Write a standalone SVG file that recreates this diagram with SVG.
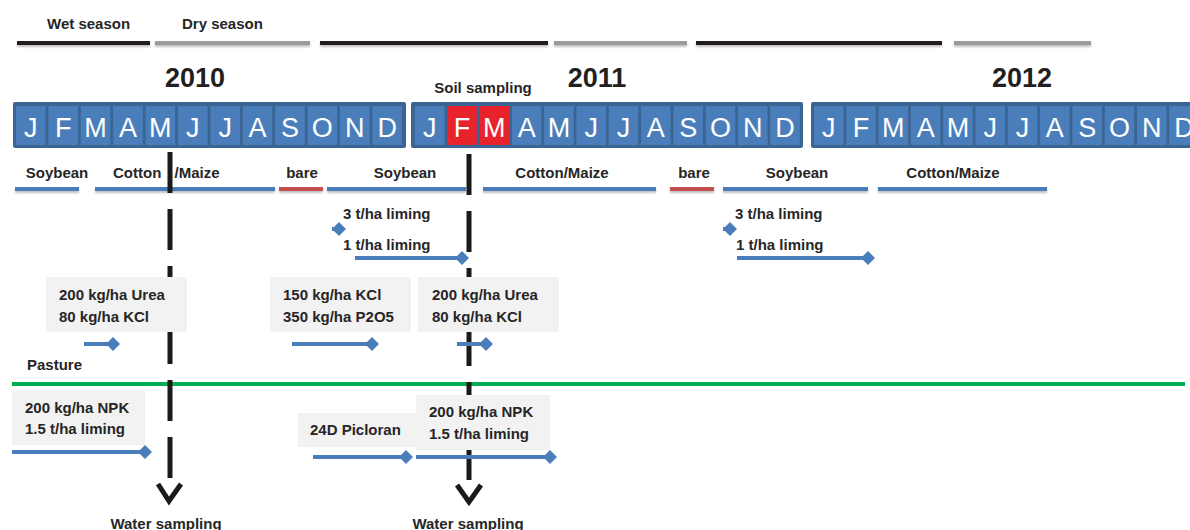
<svg xmlns="http://www.w3.org/2000/svg" width="1190" height="530" viewBox="0 0 1190 530">
<style>
.lbl{font-family:"Liberation Sans",Arial,sans-serif;font-weight:bold;font-size:15px;fill:#262626}
.yr{font-family:"Liberation Sans",Arial,sans-serif;font-weight:bold;font-size:27px;fill:#231f20;text-anchor:middle}
.mo{font-family:"Liberation Sans",Arial,sans-serif;font-size:27px;fill:#ffffff;text-anchor:middle}
.mid{text-anchor:middle}
.outer{fill:#3a6494}
.cell{fill:#4a7ebb}
.red{fill:#e8232b}
.box{fill:#f2f2f2}
.wet{stroke:#231f20;stroke-width:4;fill:none}
.dry{stroke:#9b9b9b;stroke-width:4;fill:none}
.crop{stroke:#4a7ebb;stroke-width:4;fill:none}
.bare{stroke:#c0504d;stroke-width:4;fill:none}
.app{stroke:#4a7ebb;stroke-width:4;fill:none;marker-end:url(#dia)}
.dash{stroke:#1a1a1a;stroke-width:5;fill:none;stroke-dasharray:41 16}
.chev{stroke:#1a1a1a;stroke-width:5;fill:none;stroke-linejoin:miter}
</style>
<defs>
<marker id="dia" markerUnits="userSpaceOnUse" markerWidth="16" markerHeight="16" refX="8" refY="8" orient="0" viewBox="0 0 16 16">
<path d="M1,8 L8,1 L15,8 L8,15 Z" fill="#4a7ebb"/>
</marker>
<filter id="sh" filterUnits="userSpaceOnUse" x="0" y="0" width="1190" height="530">
<feDropShadow dx="0" dy="2" stdDeviation="1" flood-color="#000" flood-opacity="0.25"/>
</filter>
</defs>

<g id="seasons" filter="url(#sh)">
<line class="wet" x1="17" y1="43" x2="150" y2="43"/>
<line class="dry" x1="155" y1="43" x2="310" y2="43"/>
<line class="wet" x1="320" y1="43" x2="548" y2="43"/>
<line class="dry" x1="554" y1="43" x2="687" y2="43"/>
<line class="wet" x1="696" y1="43" x2="942" y2="43"/>
<line class="dry" x1="954" y1="43" x2="1091" y2="43"/>
</g>
<g id="season-labels">
<text class="lbl" x="47" y="29">Wet season</text>
<text class="lbl" x="182" y="29">Dry season</text>
</g>

<g id="year-2010">
<text class="yr" x="195" y="87">2010</text>
<rect class="outer" x="13" y="102" width="393" height="46" rx="2"/>
<rect class="cell" x="16" y="106" width="29.5" height="39"/>
<rect class="cell" x="48.4" y="106" width="29.5" height="39"/>
<rect class="cell" x="80.8" y="106" width="29.5" height="39"/>
<rect class="cell" x="113.2" y="106" width="29.5" height="39"/>
<rect class="cell" x="145.6" y="106" width="29.5" height="39"/>
<rect class="cell" x="178" y="106" width="29.5" height="39"/>
<rect class="cell" x="210.4" y="106" width="29.5" height="39"/>
<rect class="cell" x="242.8" y="106" width="29.5" height="39"/>
<rect class="cell" x="275.2" y="106" width="29.5" height="39"/>
<rect class="cell" x="307.6" y="106" width="29.5" height="39"/>
<rect class="cell" x="340" y="106" width="29.5" height="39"/>
<rect class="cell" x="372.4" y="106" width="29.5" height="39"/>
<text class="mo" x="30.75" y="137">J</text>
<text class="mo" x="63.15" y="137">F</text>
<text class="mo" x="95.55" y="137">M</text>
<text class="mo" x="127.95" y="137">A</text>
<text class="mo" x="160.35" y="137">M</text>
<text class="mo" x="192.75" y="137">J</text>
<text class="mo" x="225.15" y="137">J</text>
<text class="mo" x="257.55" y="137">A</text>
<text class="mo" x="289.95" y="137">S</text>
<text class="mo" x="322.35" y="137">O</text>
<text class="mo" x="354.75" y="137">N</text>
<text class="mo" x="387.15" y="137">D</text>
</g>

<g id="year-2011">
<text class="yr" x="597" y="87">2011</text>
<rect class="outer" x="411" y="102" width="392" height="46" rx="2"/>
<rect class="cell" x="415" y="106" width="29.5" height="39"/>
<rect class="red" x="447.3" y="106" width="29.5" height="39"/>
<rect class="red" x="479.6" y="106" width="29.5" height="39"/>
<rect class="cell" x="511.9" y="106" width="29.5" height="39"/>
<rect class="cell" x="544.2" y="106" width="29.5" height="39"/>
<rect class="cell" x="576.5" y="106" width="29.5" height="39"/>
<rect class="cell" x="608.8" y="106" width="29.5" height="39"/>
<rect class="cell" x="641.1" y="106" width="29.5" height="39"/>
<rect class="cell" x="673.4" y="106" width="29.5" height="39"/>
<rect class="cell" x="705.7" y="106" width="29.5" height="39"/>
<rect class="cell" x="738" y="106" width="29.5" height="39"/>
<rect class="cell" x="770.3" y="106" width="29.5" height="39"/>
<text class="mo" x="429.75" y="137">J</text>
<text class="mo" x="462.05" y="137">F</text>
<text class="mo" x="494.35" y="137">M</text>
<text class="mo" x="526.65" y="137">A</text>
<text class="mo" x="558.95" y="137">M</text>
<text class="mo" x="591.25" y="137">J</text>
<text class="mo" x="623.55" y="137">J</text>
<text class="mo" x="655.85" y="137">A</text>
<text class="mo" x="688.15" y="137">S</text>
<text class="mo" x="720.45" y="137">O</text>
<text class="mo" x="752.75" y="137">N</text>
<text class="mo" x="785.05" y="137">D</text>
</g>

<g id="soil-sampling">
<text class="lbl mid" x="483" y="93">Soil sampling</text>
</g>

<g id="year-2012">
<text class="yr" x="1022" y="87">2012</text>
<rect class="outer" x="811" y="102" width="392" height="46" rx="2"/>
<rect class="cell" x="814" y="106" width="29.5" height="39"/>
<rect class="cell" x="846.3" y="106" width="29.5" height="39"/>
<rect class="cell" x="878.6" y="106" width="29.5" height="39"/>
<rect class="cell" x="910.9" y="106" width="29.5" height="39"/>
<rect class="cell" x="943.2" y="106" width="29.5" height="39"/>
<rect class="cell" x="975.5" y="106" width="29.5" height="39"/>
<rect class="cell" x="1007.8" y="106" width="29.5" height="39"/>
<rect class="cell" x="1040.1" y="106" width="29.5" height="39"/>
<rect class="cell" x="1072.4" y="106" width="29.5" height="39"/>
<rect class="cell" x="1104.7" y="106" width="29.5" height="39"/>
<rect class="cell" x="1137" y="106" width="29.5" height="39"/>
<rect class="cell" x="1169.3" y="106" width="29.5" height="39"/>
<text class="mo" x="828.75" y="137">J</text>
<text class="mo" x="861.05" y="137">F</text>
<text class="mo" x="893.35" y="137">M</text>
<text class="mo" x="925.65" y="137">A</text>
<text class="mo" x="957.95" y="137">M</text>
<text class="mo" x="990.25" y="137">J</text>
<text class="mo" x="1022.55" y="137">J</text>
<text class="mo" x="1054.85" y="137">A</text>
<text class="mo" x="1087.15" y="137">S</text>
<text class="mo" x="1119.45" y="137">O</text>
<text class="mo" x="1151.75" y="137">N</text>
<text class="mo" x="1184.05" y="137">D</text>
</g>

<g id="crops">
<g filter="url(#sh)">
<line class="crop" x1="15" y1="189" x2="79" y2="189"/>
<line class="crop" x1="95" y1="189" x2="275" y2="189"/>
<line class="bare" x1="279" y1="189" x2="323" y2="189"/>
<line class="crop" x1="327" y1="189" x2="466" y2="189"/>
<line class="crop" x1="483" y1="189" x2="656" y2="189"/>
<line class="bare" x1="670" y1="189" x2="714" y2="189"/>
<line class="crop" x1="723" y1="189" x2="868" y2="189"/>
<line class="crop" x1="878" y1="189" x2="1047" y2="189"/>
</g>
<text class="lbl mid" x="57" y="178">Soybean</text>
<text class="lbl" x="113" y="178">Cotton <tspan dx="9">/Maize</tspan></text>
<text class="lbl mid" x="302" y="178">bare</text>
<text class="lbl mid" x="405" y="178">Soybean</text>
<text class="lbl mid" x="562" y="178">Cotton/Maize</text>
<text class="lbl mid" x="694" y="178">bare</text>
<text class="lbl mid" x="797" y="178">Soybean</text>
<text class="lbl mid" x="953" y="178">Cotton/Maize</text>
</g>

<g id="pasture">
<line x1="12" y1="384" x2="1185" y2="384" stroke="#00b050" stroke-width="4"/>
<text class="lbl" x="27" y="370">Pasture</text>
</g>

<g id="connectors">
<line class="dash" x1="170" y1="152" x2="170" y2="478"/>
<polyline class="chev" points="158,484 169,501 181,484"/>
<line class="dash" x1="469" y1="154" x2="469" y2="480"/>
<polyline class="chev" points="457,485 469,502 481,485"/>
</g>

<g id="water-sampling">
<text class="lbl mid" x="166" y="529">Water sampling</text>
<text class="lbl mid" x="468" y="529">Water sampling</text>
</g>

<g id="liming-2011">
<text class="lbl" x="343" y="219">3 t/ha liming</text>
<line class="app" x1="332" y1="229" x2="339" y2="229"/>
<text class="lbl" x="343" y="250">1 t/ha liming</text>
<line class="app" x1="355" y1="258" x2="462" y2="258"/>
</g>
<g id="liming-2012">
<text class="lbl" x="735" y="219">3 t/ha liming</text>
<line class="app" x1="723" y1="229" x2="730" y2="229"/>
<text class="lbl" x="736" y="250">1 t/ha liming</text>
<line class="app" x1="737" y1="258" x2="868" y2="258"/>
</g>

<g id="fert-2010">
<rect class="box" x="46" y="277" width="141" height="55"/>
<text class="lbl" x="59" y="300">200 kg/ha Urea</text>
<text class="lbl" x="59" y="322">80 kg/ha KCl</text>
<line class="app" x1="84" y1="344" x2="113" y2="344"/>
</g>
<g id="fert-kcl-p2o5">
<rect class="box" x="270" y="277" width="141" height="55"/>
<text class="lbl" x="283" y="300">150 kg/ha KCl</text>
<text class="lbl" x="283" y="322">350 kg/ha P2O5</text>
<line class="app" x1="292" y1="344" x2="372" y2="344"/>
</g>
<g id="fert-2011">
<rect class="box" x="418" y="277" width="141" height="55"/>
<text class="lbl" x="432" y="300">200 kg/ha Urea</text>
<text class="lbl" x="432" y="322">80 kg/ha KCl</text>
<line class="app" x1="457" y1="344" x2="486" y2="344"/>
</g>

<g id="pasture-npk-2010">
<rect class="box" x="12" y="391" width="133" height="54"/>
<text class="lbl" x="25" y="413">200 kg/ha NPK</text>
<text class="lbl" x="25" y="434">1.5 t/ha liming</text>
<line class="app" x1="12" y1="452" x2="145" y2="452"/>
</g>
<g id="pasture-herbicide">
<rect class="box" x="298" y="413" width="118" height="34"/>
<text class="lbl" x="310" y="435">24D Picloran</text>
<line class="app" x1="313" y1="457" x2="406" y2="457"/>
</g>
<g id="pasture-npk-2011">
<rect class="box" x="416" y="395" width="134" height="55"/>
<text class="lbl" x="429" y="417">200 kg/ha NPK</text>
<text class="lbl" x="429" y="439">1.5 t/ha liming</text>
<line class="app" x1="416" y1="457" x2="550" y2="457"/>
</g>
</svg>
